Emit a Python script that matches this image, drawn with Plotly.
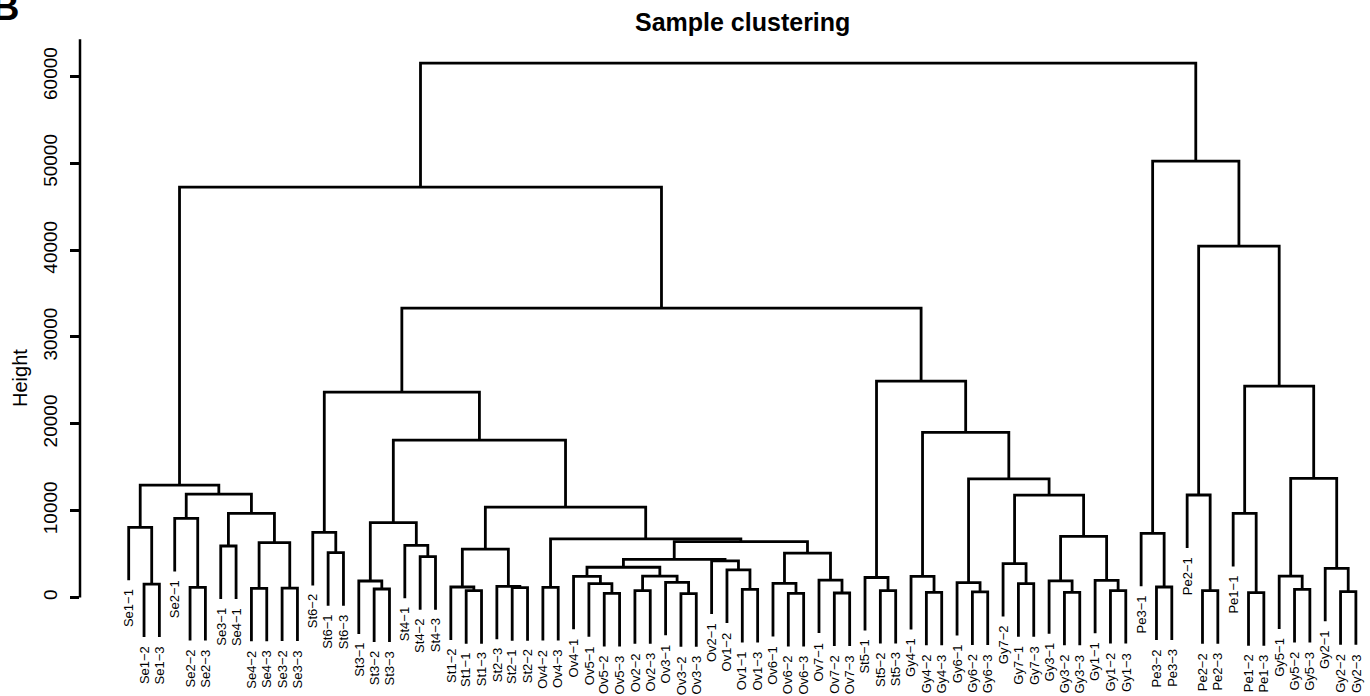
import plotly.graph_objects as go

# ---------------- data ----------------
leaf_labels = [
    "Se1-1", "Se1-2", "Se1-3", "Se2-1", "Se2-2", "Se2-3", "Se3-1", "Se4-1", "Se4-2", "Se4-3", "Se3-2", "Se3-3",
    "St6-2", "St6-1", "St6-3", "St3-1", "St3-2", "St3-3", "St4-1", "St4-2", "St4-3",
    "St1-2", "St1-1", "St1-3", "St2-3", "St2-1", "St2-2",
    "Ov4-2", "Ov4-3", "Ov4-1", "Ov5-1", "Ov5-2", "Ov5-3", "Ov2-2", "Ov2-3", "Ov3-1", "Ov3-2", "Ov3-3",
    "Ov2-1", "Ov1-2", "Ov1-1", "Ov1-3",
    "Ov6-1", "Ov6-2", "Ov6-3", "Ov7-1", "Ov7-2", "Ov7-3",
    "St5-1", "St5-2", "St5-3",
    "Gy4-1", "Gy4-2", "Gy4-3", "Gy6-1", "Gy6-2", "Gy6-3",
    "Gy7-2", "Gy7-1", "Gy7-3", "Gy3-1", "Gy3-2", "Gy3-3", "Gy1-1", "Gy1-2", "Gy1-3",
    "Pe3-1", "Pe3-2", "Pe3-3",
    "Pe2-1", "Pe2-2", "Pe2-3", "Pe1-1", "Pe1-2", "Pe1-3",
    "Gy5-1", "Gy5-2", "Gy5-3", "Gy2-1", "Gy2-2", "Gy2-3",
]

# merges: (node name, left child, right child, height)
se_merges = [
    ("Se1b", "Se1-2", "Se1-3", 1550),
    ("Se1", "Se1-1", "Se1b", 8080),
    ("Se2b", "Se2-2", "Se2-3", 1170),
    ("Se2", "Se2-1", "Se2b", 9110),
    ("Se34a", "Se3-1", "Se4-1", 5930),
    ("Se4b", "Se4-2", "Se4-3", 1060),
    ("Se3b", "Se3-2", "Se3-3", 1090),
    ("Se34b", "Se4b", "Se3b", 6310),
    ("Se34", "Se34a", "Se34b", 9690),
    ("Se234", "Se2", "Se34", 11910),
    ("SeAll", "Se1", "Se234", 12950),
]

st_merges = [
    ("St6b", "St6-1", "St6-3", 5160),
    ("St6", "St6-2", "St6b", 7500),
    ("St3b", "St3-2", "St3-3", 980),
    ("St3", "St3-1", "St3b", 1900),
    ("St4b", "St4-2", "St4-3", 4700),
    ("St4", "St4-1", "St4b", 6010),
    ("St34", "St3", "St4", 8610),
    ("St1b", "St1-1", "St1-3", 780),
    ("St1", "St1-2", "St1b", 1210),
    ("St2b", "St2-1", "St2-2", 1130),
    ("St2", "St2-3", "St2b", 1290),
    ("St12", "St1", "St2", 5580),
]

ov_merges = [
    ("Ov4b", "Ov4-2", "Ov4-3", 1170),
    ("Ov5b", "Ov5-2", "Ov5-3", 480),
    ("Ov5", "Ov5-1", "Ov5b", 1590),
    ("Ov45", "Ov4-1", "Ov5", 2440),
    ("Ov2b", "Ov2-2", "Ov2-3", 780),
    ("Ov3b", "Ov3-2", "Ov3-3", 440),
    ("Ov3", "Ov3-1", "Ov3b", 1750),
    ("Ov23", "Ov2b", "Ov3", 2470),
    ("Ov2345", "Ov45", "Ov23", 3480),
    ("Ov1b", "Ov1-1", "Ov1-3", 940),
    ("Ov1", "Ov1-2", "Ov1b", 3170),
    ("Ov21", "Ov2-1", "Ov1", 4220),
    ("OvA", "Ov2345", "Ov21", 4400),
    ("Ov6b", "Ov6-2", "Ov6-3", 480),
    ("Ov6", "Ov6-1", "Ov6b", 1630),
    ("Ov7b", "Ov7-2", "Ov7-3", 520),
    ("Ov7", "Ov7-1", "Ov7b", 2010),
    ("Ov67", "Ov6", "Ov7", 5120),
    ("OvB", "OvA", "Ov67", 6430),
    ("OvAll", "Ov4b", "OvB", 6750),
    ("StOv", "St12", "OvAll", 10400),
    ("StOv2", "St34", "StOv", 18130),
    ("StOvAll", "St6", "StOv2", 23650),
]

gy_merges = [
    ("St5b", "St5-2", "St5-3", 800),
    ("St5", "St5-1", "St5b", 2300),
    ("Gy4b", "Gy4-2", "Gy4-3", 600),
    ("Gy4", "Gy4-1", "Gy4b", 2430),
    ("Gy6b", "Gy6-2", "Gy6-3", 650),
    ("Gy6", "Gy6-1", "Gy6b", 1720),
    ("Gy7b", "Gy7-1", "Gy7-3", 1590),
    ("Gy7", "Gy7-2", "Gy7b", 3910),
    ("Gy3b", "Gy3-2", "Gy3-3", 600),
    ("Gy3", "Gy3-1", "Gy3b", 1920),
    ("Gy1b", "Gy1-2", "Gy1-3", 800),
    ("Gy1", "Gy1-1", "Gy1b", 1980),
    ("Gy31", "Gy3", "Gy1", 7040),
    ("Gy731", "Gy7", "Gy31", 11780),
    ("Gy6731", "Gy6", "Gy731", 13650),
    ("GyA", "Gy4", "Gy6731", 19010),
    ("GyAll", "St5", "GyA", 24920),
]

mid_merges = [
    ("Mid", "StOvAll", "GyAll", 33320),
    ("Left", "SeAll", "Mid", 47250),
]

pe_merges = [
    ("Pe3b", "Pe3-2", "Pe3-3", 1210),
    ("Pe3", "Pe3-1", "Pe3b", 7390),
    ("Pe2b", "Pe2-2", "Pe2-3", 780),
    ("Pe2", "Pe2-1", "Pe2b", 11800),
    ("Pe1b", "Pe1-2", "Pe1-3", 550),
    ("Pe1", "Pe1-1", "Pe1b", 9690),
    ("Gy5b", "Gy5-2", "Gy5-3", 940),
    ("Gy5", "Gy5-1", "Gy5b", 2470),
    ("Gy2b", "Gy2-2", "Gy2-3", 670),
    ("Gy2", "Gy2-1", "Gy2b", 3360),
    ("Gy52", "Gy5", "Gy2", 13720),
    ("Pe1Gy", "Pe1", "Gy52", 24340),
    ("Pe2Gy", "Pe2", "Pe1Gy", 40460),
    ("Right", "Pe3", "Pe2Gy", 50240),
    ("Root", "Left", "Right", 61520),
]

y_ticks = [0, 10000, 20000, 30000, 40000, 50000, 60000]

# ---------------- build dendrogram segments ----------------
merges = se_merges + st_merges + ov_merges + gy_merges + mid_merges + pe_merges
heights = [m[3] for m in merges]
hang = 0.1 * (max(heights) - min(heights))

pos = {lab: i + 1 for i, lab in enumerate(leaf_labels)}
node_h = {}
leaf_bottom = {}
xs, ys = [], []
for name, a, b, h in merges:
    ends = []
    for c in (a, b):
        if c in node_h:
            ends.append(node_h[c])
        else:
            leaf_bottom[c] = h - hang
            ends.append(h - hang)
    xa, xb = pos[a], pos[b]
    xs += [xa, xa, xb, xb, None]
    ys += [ends[0], h, h, ends[1], None]
    pos[name] = (xa + xb) / 2
    node_h[name] = h

# ---------------- figure ----------------
W, H = 1370, 696
ML, MR, MT, MB = 80, 0, 30, 40
PW, PH = W - ML - MR, H - MT - MB
FONT = "Liberation Sans, Arial, Helvetica, sans-serif"


def px_x(p):
    return (p - ML) / PW


def px_y(p):
    return (H - MB - p) / PH


fig = go.Figure()
fig.add_trace(go.Scatter(
    x=xs, y=ys, mode="lines",
    line=dict(color="black", width=2.8),
    hoverinfo="skip", showlegend=False,
))

annotations = []
for lab in leaf_labels:
    annotations.append(dict(
        x=pos[lab], y=leaf_bottom[lab], xref="x", yref="y",
        text=lab.replace("-", "\u2212"), textangle=-90,
        showarrow=False, xanchor="center", yanchor="top", yshift=-7,
        font=dict(family=FONT, size=13, color="black"),
    ))

annotations.append(dict(
    x=px_x(742), y=px_y(22), xref="paper", yref="paper",
    text="<b>Sample clustering</b>", showarrow=False,
    xanchor="center", yanchor="middle",
    font=dict(family=FONT, size=25, color="black"),
))
annotations.append(dict(
    x=px_x(20), y=px_y(378), xref="paper", yref="paper",
    text="Height", textangle=-90, showarrow=False,
    xanchor="center", yanchor="middle",
    font=dict(family=FONT, size=20, color="black"),
))
annotations.append(dict(
    x=px_x(21), y=px_y(30), xref="paper", yref="paper",
    text="<b>B</b>", showarrow=False,
    xanchor="right", yanchor="bottom",
    font=dict(family=FONT, size=38, color="black"),
))

fig.update_layout(
    template="none",
    width=W, height=H,
    margin=dict(l=ML, r=MR, t=MT, b=MB, pad=0),
    paper_bgcolor="white", plot_bgcolor="white",
    showlegend=False,
    annotations=annotations,
    xaxis=dict(visible=False, range=[-2.175, 81.92], automargin=False),
    yaxis=dict(
        range=[-6736, 65343], automargin=False,
        tickvals=y_ticks, ticktext=[str(v) for v in y_ticks],
        tickangle=-90, ticks="outside", ticklen=9, tickwidth=2.5, tickcolor="black",
        ticklabelstandoff=5,
        showline=False, showgrid=False, zeroline=False,
        tickfont=dict(family=FONT, size=19, color="black"),
    ),
    shapes=[dict(
        type="line", xref="paper", yref="y", x0=0, x1=0, y0=0, y1=64280,
        line=dict(color="black", width=2.5),
    )],
)

fig.write_html(
    "out.html",
    config={"displayModeBar": False},
    post_script="document.body.style.margin='0';document.body.style.overflow='hidden';",
)
